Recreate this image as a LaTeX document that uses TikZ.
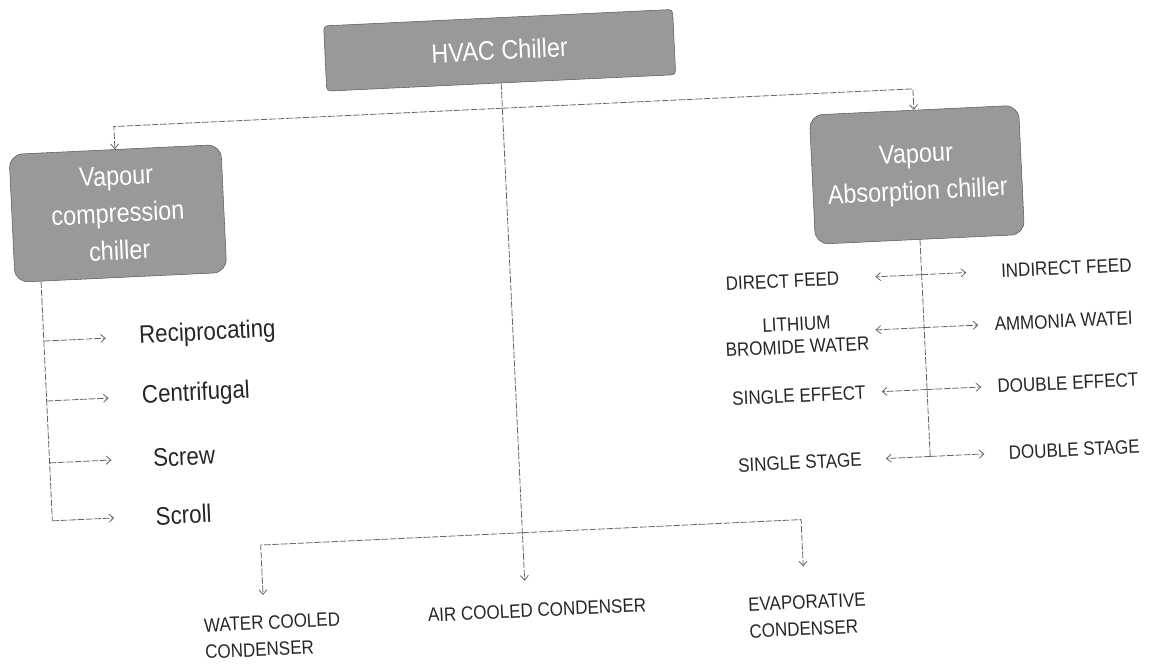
\documentclass[tikz,border=0pt]{standalone}
\usepackage{fontspec}
\setmainfont{Liberation Sans}
\newfontfamily\labfont[FakeStretch=0.88]{Liberation Sans}
\usetikzlibrary{arrows.meta}
\begin{document}
\begin{tikzpicture}[x=0.75pt,y=-0.75pt,
  ln/.style={draw=black!60, line width=0.6pt, dash pattern=on 5pt off 1.3pt},
  arr/.style={-{Straight Barb[length=3.5pt,width=6pt]}},
  boxa/.style={draw=black!65, fill=black!40, text=white, font=\labfont\fontsize{20}{28}\selectfont, align=center, inner sep=0pt},
  mainbox/.style={boxa, minimum width=262pt, minimum height=49pt, rounded corners=3pt},
  subbox/.style={boxa, minimum width=159pt, minimum height=96pt, rounded corners=10pt},
  biglab/.style={font=\labfont\fontsize{19}{22}\selectfont, text=black!85, inner sep=1pt},
  caplab/.style={font=\labfont\fontsize{14.5}{17}\selectfont, text=black!85, inner sep=1pt, align=center},
  caplabl/.style={font=\labfont\fontsize{14.5}{20}\selectfont, text=black!85, inner sep=1pt, align=left},
]
\useasboundingbox (0,0) rectangle (1152,665);
\begin{scope}[rotate around={2.7:(576,332)}, transform shape]
  % boxes
  \node[mainbox] (hvac) at (513,47) {HVAC Chiller};
  \node[subbox] (vc) at (124,192) {Vapour\\compression\\chiller};
  \node[subbox, minimum width=157pt, minimum height=97pt] (va) at (924,191) {Vapour\\Absorption chiller};

  % left labels
  \node[biglab, anchor=west] (rec) at (138,316) {Reciprocating};
  \node[biglab, anchor=west] (cen) at (138,376) {Centrifugal};
  \node[biglab, anchor=west] (scr) at (146,438) {Screw};
  \node[biglab, anchor=west] (scl) at (146,496) {Scroll};

  % right labels
  \node[caplab, anchor=east] (df) at (843,291) {DIRECT FEED};
  \node[caplab, anchor=west] (idf) at (1002,291) {INDIRECT FEED};
  \node[caplab, anchor=east] (lbw) at (870,346) {LITHIUM\\BROMIDE WATER};
  \node[caplab, anchor=west] (amw) at (993,344) {AMMONIA WATEI};
  \node[caplab, anchor=east] (se) at (864,406) {SINGLE EFFECT};
  \node[caplab, anchor=west] (de) at (993,406) {DOUBLE EFFECT};
  \node[caplab, anchor=east] (ss) at (857,473) {SINGLE STAGE};
  \node[caplab, anchor=west] (ds) at (1001,473) {DOUBLE STAGE};

  % bottom labels
  \node[caplabl, anchor=west] (wcc) at (189,621) {WATER COOLED\\CONDENSER};
  \node[caplab] (acc) at (524,608) {AIR COOLED CONDENSER};
  \node[caplabl] (evc) at (794,626) {EVAPORATIVE\\CONDENSER};

  % junctions and free ends
  \coordinate (top) at (513,105);
  \coordinate (bot) at (513,530);
  \coordinate (tc) at (513,578);
  \coordinate (tw) at (251,580);
  \coordinate (te) at (792,577);
  \coordinate (l4) at (44,496);
  \coordinate (r4) at (924,473);

  % trunk
  \draw[ln,arr] (hvac.south) -- (tc);
  \draw[ln,arr] (top) -| (vc.north);
  \draw[ln,arr] (top) -| (va.north);
  \draw[ln,arr] (bot) -| (tw);
  \draw[ln,arr] (bot) -| (te);

  % left branch
  \draw[ln] (vc.south -| l4) -- (l4);
  \draw[ln,arr,shorten >=24pt] (rec.west -| l4) -- (rec.west);
  \draw[ln,arr,shorten >=24pt] (cen.west -| l4) -- (cen.west);
  \draw[ln,arr,shorten >=30pt] (scr.west -| l4) -- (scr.west);
  \draw[ln,arr,shorten >=30pt] (scl.west -| l4) -- (scl.west);

  % right branch
  \draw[ln] (va.south) -- (r4);
  \draw[ln,arr,shorten >=26pt] (df.east -| r4) -- (df.east);
  \draw[ln,arr,shorten >=25pt] (idf.west -| r4) -- (idf.west);
  \draw[ln,arr,shorten >=4pt] (amw.west -| r4) -- (amw.west -| lbw.east);
  \draw[ln,arr,shorten >=11pt] (amw.west -| r4) -- (amw.west);
  \draw[ln,arr,shorten >=11pt] (se.east -| r4) -- (se.east);
  \draw[ln,arr,shorten >=11pt] (de.west -| r4) -- (de.west);
  \draw[ln,arr,shorten >=17pt] (ss.east -| r4) -- (ss.east);
  \draw[ln,arr,shorten >=17pt] (ds.west -| r4) -- (ds.west);
\end{scope}
\end{tikzpicture}
\end{document}
